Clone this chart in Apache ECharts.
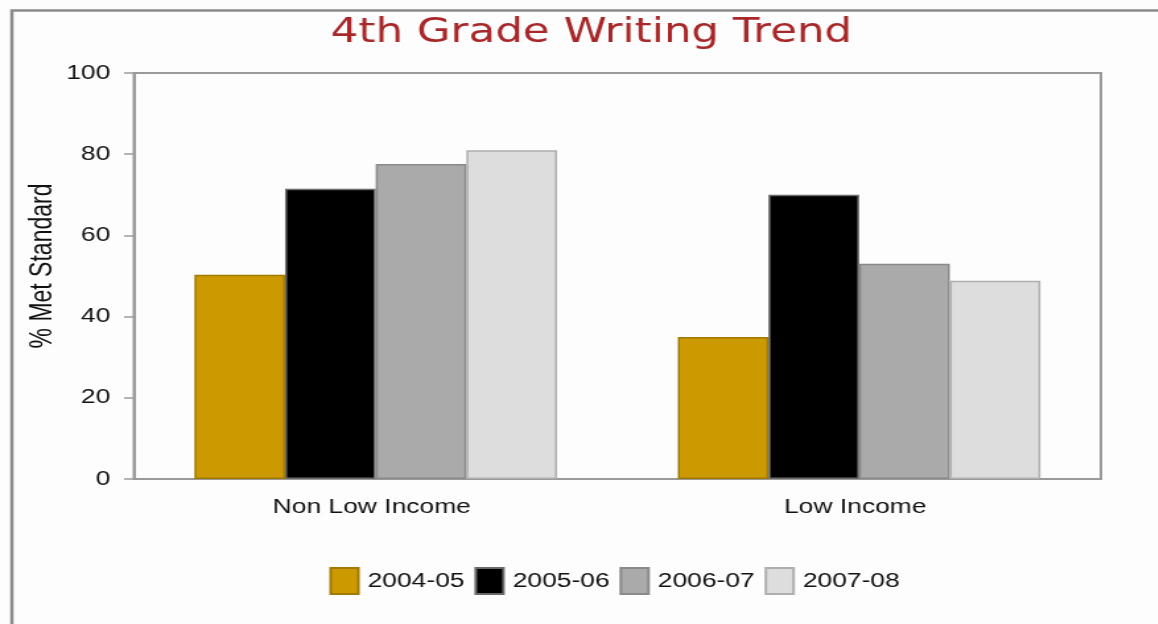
<!DOCTYPE html>
<html>
<head>
<meta charset="utf-8">
<script src="https://cdn.jsdelivr.net/npm/echarts@6/dist/echarts.min.js"></script>
<style>
  html, body { margin: 0; padding: 0; background: #fdfdfd; overflow: hidden; }
  /* The chart is laid out narrow and widened horizontally, giving the stretched glyphs */
  #chart { width: 877px; height: 624px; transform: scaleX(1.32); transform-origin: 0 0; }
</style>
</head>
<body>
<div id="chart"></div>
<script>
// Income groups along the x axis
const categories = ['Non Low Income', 'Low Income'];
// School years shown as series
const years = ['2004-05', '2005-06', '2006-07', '2007-08'];
// Percent of students meeting standard, per year, per group
const pct0405 = [50.3, 35.0];
const pct0506 = [71.5, 70.0];
const pct0607 = [77.6, 53.0];
const pct0708 = [81.0, 48.8];
const yTicks = [0, 20, 40, 60, 80, 100];

const fills = ['#CC9900', '#000000', '#AAAAAA', '#DDDDDD'];
const edges = ['#A07A00', '#6a6a6a', '#8a8a8a', '#AFAFAF'];
const values = [pct0405, pct0506, pct0607, pct0708];

const chart = echarts.init(document.getElementById('chart'), null, { renderer: 'canvas' });

const series = years.map((y, i) => ({
  name: y,
  type: 'bar',
  data: values[i],
  barGap: '0%',
  barCategoryGap: '25%',
  itemStyle: { color: fills[i], borderColor: edges[i], borderWidth: 1.5 }
}));

chart.setOption({
  animation: false,
  backgroundColor: '#fdfdfd',
  legend: {
    data: years,
    top: 567,
    left: 249.5,
    padding: 0,
    itemWidth: 21,
    itemHeight: 26,
    itemGap: 7.5,
    icon: 'rect',
    textStyle: { fontFamily: 'Liberation Sans', fontSize: 20, color: '#111', padding: [0, 0, 0, 2] }
  },
  grid: {
    left: 101.5,
    right: 43,
    top: 73,
    bottom: 145,
    show: true,
    borderColor: '#9a9a9a',
    borderWidth: 2,
    backgroundColor: 'transparent'
  },
  xAxis: {
    type: 'category',
    data: categories,
    axisLine: { show: true, lineStyle: { color: '#9a9a9a', width: 2 } },
    axisTick: { show: false },
    axisLabel: { fontFamily: 'Liberation Sans', fontSize: 20, color: '#111', margin: 18, padding: [0, 6, 0, 0] }
  },
  yAxis: {
    type: 'value',
    min: 0,
    max: 100,
    interval: 20,
    axisLine: { show: true, lineStyle: { color: '#9a9a9a', width: 2 } },
    axisTick: { show: true, length: 7.5, lineStyle: { color: '#9a9a9a', width: 1.5 } },
    splitLine: { show: false },
    axisLabel: {
      fontFamily: 'Liberation Sans',
      fontSize: 20,
      color: '#111',
      margin: 18,
      formatter: v => (yTicks.includes(v) ? String(v) : '')
    }
  },
  graphic: [
    {
      type: 'rect',
      left: 6.5,
      top: 8,
      shape: { width: 1000, height: 700 },
      style: { fill: 'none', stroke: '#8a8a8a', lineWidth: 2.5 },
      silent: true
    },
    {
      type: 'text',
      x: 448,
      y: 17,
      style: {
        text: '4th Grade Writing Trend',
        textAlign: 'center',
        fill: '#A8282A',
        fontFamily: 'DejaVu Sans',
        fontSize: 33
      },
      silent: true
    },
    {
      // y-axis title, rotated to read bottom-to-top
      type: 'text',
      x: 32.5,
      y: 266,
      rotation: Math.PI / 2,
      style: {
        text: '% Met Standard',
        textAlign: 'center',
        textVerticalAlign: 'middle',
        fill: '#111',
        fontFamily: 'Liberation Sans',
        fontSize: 23
      },
      silent: true
    }
  ],
  series
});
</script>
</body>
</html>
